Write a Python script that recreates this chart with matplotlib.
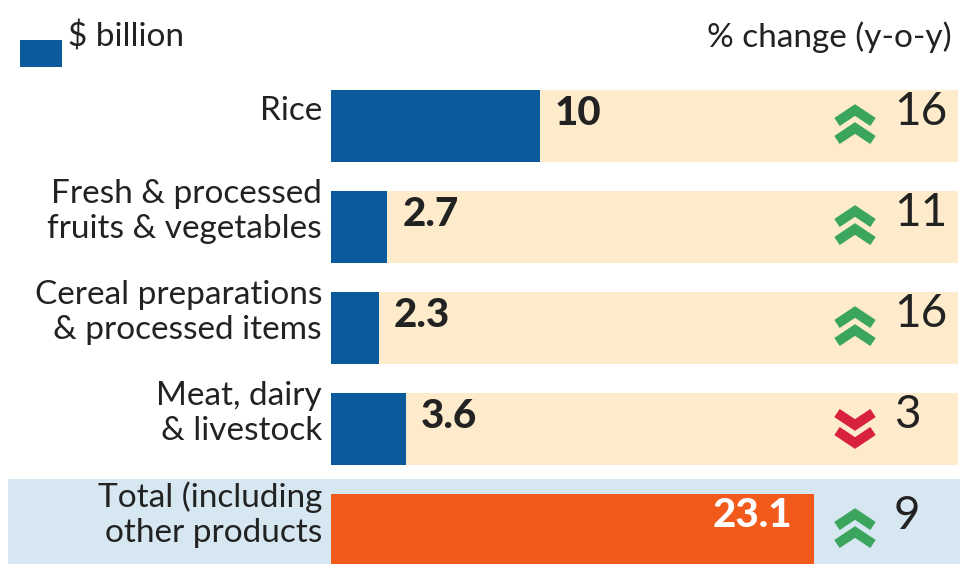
import matplotlib
matplotlib.use("Agg")
import matplotlib.pyplot as plt
from matplotlib.patches import Rectangle

categories = ["Rice", "Fresh & processed\nfruits & vegetables", "Cereal preparations\n& processed items",
              "Meat, dairy\n& livestock", "Total (including\nother products"]
values = [10, 2.7, 2.3, 3.6, 23.1]
value_labels = ["10", "2.7", "2.3", "3.6", "23.1"]
pct_change = ["16", "11", "16", "3", "9"]
direction = ["up", "up", "up", "down", "up"]

BLUE = "#0B5A9C"
ORANGE = "#F15A1B"
CREAM = "#FDEBCB"
LIGHTBLUE = "#D7E7F1"
GREEN = "#3BA55E"
RED = "#D7213F"
TXT = "#222222"

plt.rcParams['font.family'] = ['Lato', 'DejaVu Sans']

W, H = 960, 564
fig = plt.figure(figsize=(W / 100, H / 100), dpi=100)
ax = fig.add_axes([0, 0, 1, 1])
ax.axis("off")

px_per_x = 20.9
px_per_y = 101.0
x0 = 331
y0 = 126
ax.set_xlim(-x0 / px_per_x, (W - x0) / px_per_x)
ax.set_ylim((H - y0) / px_per_y, -y0 / px_per_y)

def px_x(p):
    return (p - x0) / px_per_x

bar_h = 0.72
n = len(categories)
for i, (cat, v, lab, pc, d) in enumerate(zip(categories, values, value_labels, pct_change, direction)):
    total = (i == n - 1)
    if total:
        ax.add_patch(Rectangle((px_x(8), i - 0.5), px_x(960) - px_x(8), 1.2,
                               color=LIGHTBLUE, zorder=0, lw=0))
    else:
        ax.add_patch(Rectangle((0, i - bar_h / 2), px_x(958), bar_h, color=CREAM, zorder=0, lw=0))
    ax.barh(i, v, height=bar_h, color=ORANGE if total else BLUE, zorder=2)
    ax.text(px_x(322), i - 0.15, cat, ha="right", va="center", fontsize=24, color=TXT,
            linespacing=1.22)
    if total:
        ax.text(v - 22 / px_per_x, i - 0.14, lab, ha="right", va="center", fontsize=29,
                fontweight="black", color="white", zorder=3)
    else:
        ax.text(v + 15 / px_per_x, i - 0.12, lab, ha="left", va="center", fontsize=29,
                fontweight="black", color=TXT, zorder=3)
    ax.text(px_x(894), i - 0.14, pc, ha="left", va="center", fontsize=33, color=TXT, zorder=3)
    # double chevron
    cx = px_x(855)
    hw = 18 / px_per_x
    ch = 12 / px_per_y
    col = GREEN if d == "up" else RED
    for off in [-9, 9]:
        cy = i + (off - 1) / px_per_y
        xs = [cx - hw, cx, cx + hw]
        if d == "up":
            ys = [cy + ch / 2, cy - ch / 2, cy + ch / 2]
        else:
            ys = [cy - ch / 2, cy + ch / 2, cy - ch / 2]
        ax.plot(xs, ys, color=col, lw=7, solid_joinstyle="miter", solid_capstyle="butt", zorder=3)

# legend / headers
ax.add_patch(Rectangle((px_x(20), (40 - y0) / px_per_y), 42 / px_per_x, 27 / px_per_y,
                       color=BLUE, lw=0))
ax.text(px_x(68), (37 - y0) / px_per_y, "$ billion", ha="left", va="center", fontsize=24, color=TXT)
ax.text(px_x(952), (37 - y0) / px_per_y, "% change (y-o-y)", ha="right", va="center",
        fontsize=24, color=TXT)

fig.savefig("out.png", dpi=100, facecolor="white")
